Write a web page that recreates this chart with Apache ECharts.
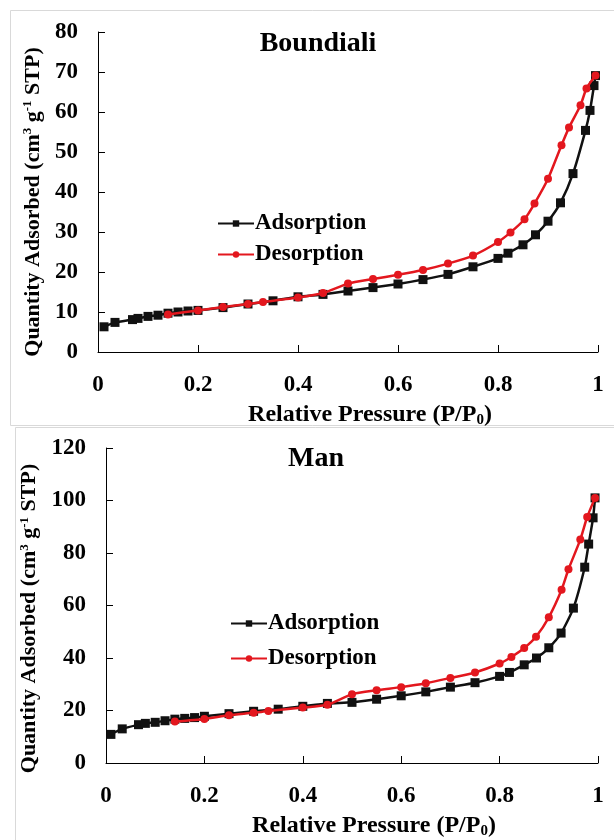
<!DOCTYPE html>
<html>
<head>
<meta charset="utf-8">
<script src="https://cdn.jsdelivr.net/npm/echarts@6/dist/echarts.min.js"></script>
<style>
  html, body { margin: 0; padding: 0; background: #fff; }
  #chart { width: 614px; height: 840px; }
</style>
</head>
<body>
<div id="chart"></div>
<script>
// Boundiali isotherm
const bAdsX = [0.012, 0.034, 0.069, 0.08, 0.10, 0.12, 0.14, 0.16, 0.18, 0.20, 0.25, 0.30, 0.35, 0.40, 0.45, 0.50, 0.55, 0.60, 0.65, 0.70, 0.75, 0.80, 0.82, 0.85, 0.875, 0.90, 0.925, 0.95, 0.975, 0.984, 0.992, 0.995]
const bAdsY = [6.3, 7.4, 8.1, 8.4, 8.9, 9.2, 9.7, 10.0, 10.25, 10.4, 11.1, 12.0, 12.8, 13.8, 14.4, 15.25, 16.1, 17.0, 18.1, 19.4, 21.3, 23.4, 24.7, 26.8, 29.3, 32.7, 37.3, 44.6, 55.4, 60.4, 66.6, 69.1]
const bDesX = [0.995, 0.977, 0.965, 0.942, 0.927, 0.90, 0.873, 0.853, 0.825, 0.80, 0.75, 0.70, 0.65, 0.60, 0.55, 0.50, 0.45, 0.40, 0.33, 0.30, 0.25, 0.20, 0.14]
const bDesY = [69.1, 65.9, 61.7, 56.1, 51.7, 43.3, 37.1, 33.2, 29.9, 27.5, 24.1, 22.1, 20.5, 19.3, 18.25, 17.1, 14.75, 13.6, 12.5, 12.0, 11.25, 10.4, 9.4]

// Man isotherm
const mAdsX = [0.01, 0.033, 0.066, 0.08, 0.10, 0.12, 0.14, 0.16, 0.18, 0.20, 0.25, 0.30, 0.35, 0.40, 0.45, 0.50, 0.55, 0.60, 0.65, 0.70, 0.75, 0.80, 0.82, 0.85, 0.875, 0.90, 0.925, 0.95, 0.973, 0.981, 0.99, 0.994]
const mAdsY = [10.9, 13.0, 14.6, 15.1, 15.5, 16.1, 16.7, 17.0, 17.3, 17.8, 18.8, 19.7, 20.5, 21.6, 22.7, 23.1, 24.3, 25.6, 27.1, 28.9, 30.6, 33.0, 34.5, 37.4, 40.0, 43.9, 49.5, 59.0, 74.6, 83.4, 93.4, 101.0]
const mDesX = [0.994, 0.978, 0.964, 0.94, 0.926, 0.90, 0.874, 0.85, 0.824, 0.80, 0.75, 0.70, 0.65, 0.60, 0.55, 0.50, 0.45, 0.40, 0.33, 0.30, 0.25, 0.20, 0.14]
const mDesY = [101.0, 93.7, 85.1, 73.8, 66.0, 55.5, 48.1, 43.8, 40.4, 37.9, 34.5, 32.4, 30.4, 28.9, 27.7, 26.2, 22.2, 21.1, 19.8, 19.1, 18.2, 16.8, 15.8]

const xTicks = [0, 0.2, 0.4, 0.6, 0.8, 1]

const zip = (xs, ys) => xs.map((x, i) => [x, ys[i]])

const FONT = 'Liberation Serif'
const RED = '#e3171e'
const BLACK = '#111'

const myChart = echarts.init(document.getElementById('chart'))

const xAxisFor = (gridIndex) => ({
  type: 'value',
  gridIndex: gridIndex,
  min: 0,
  max: 1,
  interval: 0.2,
  name: 'Relative Pressure (P/P{sub|0})',
  nameLocation: 'middle',
  nameGap: 49,
  nameTextStyle: {
    fontFamily: FONT,
    fontWeight: 'bold',
    fontSize: 24,
    color: '#000',
    padding: [0, 0, 0, 44],
    rich: {
      sub: { fontFamily: FONT, fontWeight: 'bold', fontSize: 15, color: '#000', verticalAlign: 'bottom', padding: [12, 0, 0, 0] }
    }
  },
  axisLine: { lineStyle: { color: '#000', width: 1 } },
  axisTick: { inside: true, length: 7, lineStyle: { color: '#000' } },
  splitLine: { show: false },
  axisLabel: {
    margin: 22,
    fontFamily: FONT,
    fontWeight: 'bold',
    fontSize: 23,
    color: '#000',
    formatter: (v) => (xTicks.includes(v) ? String(v) : '')
  }
})

const yAxisFor = (gridIndex, max, interval, gap, shift) => ({
  type: 'value',
  gridIndex: gridIndex,
  min: 0,
  max: max,
  interval: interval,
  name: 'Quantity Adsorbed (cm{sup|3} g{sup|-1} STP)',
  nameLocation: 'middle',
  nameRotate: 90,
  nameGap: gap,
  nameTextStyle: {
    fontFamily: FONT,
    fontWeight: 'bold',
    fontSize: 22,
    color: '#000',
    padding: [0, shift, 0, 0],
    rich: {
      sup: { fontFamily: FONT, fontWeight: 'bold', fontSize: 13, color: '#000', verticalAlign: 'top', padding: [0, 0, 10, 0] }
    }
  },
  axisLine: { show: true, lineStyle: { color: '#000', width: 1 } },
  axisTick: { show: true, inside: true, length: 7, lineStyle: { color: '#000' } },
  splitLine: { show: false },
  axisLabel: {
    margin: 20,
    fontFamily: FONT,
    fontWeight: 'bold',
    fontSize: 23,
    color: '#000'
  }
})

const seriesFor = (name, data, idx, isAds) => ({
  name: name,
  type: 'line',
  xAxisIndex: idx,
  yAxisIndex: idx,
  data: data,
  symbol: isAds ? 'rect' : 'circle',
  symbolSize: isAds ? 9 : 8,
  smooth: 0.2,
  lineStyle: { color: isAds ? BLACK : RED, width: 2.5 },
  itemStyle: { color: isAds ? BLACK : RED },
  z: isAds ? 2 : 3,
  animation: false
})

const legendFor = (left, top, gap) => ({
  orient: 'vertical',
  left: left,
  top: top,
  padding: 0,
  itemWidth: 36,
  itemHeight: 8,
  itemGap: gap,
  data: ['Adsorption', 'Desorption'],
  textStyle: { fontFamily: FONT, fontWeight: 'bold', fontSize: 23, color: '#000', padding: [0, 0, 0, -4] }
})

const option = {
  backgroundColor: '#fff',
  animation: false,
  title: [
    { text: 'Boundiali', left: 313, top: 25, textAlign: 'center', textStyle: { fontFamily: FONT, fontWeight: 'bold', fontSize: 28, color: '#000' } },
    { text: 'Man', left: 311, top: 440, textAlign: 'center', textStyle: { fontFamily: FONT, fontWeight: 'bold', fontSize: 28, color: '#000' } }
  ],
  legend: [legendFor(217, 212, 8), legendFor(230, 612, 12)],
  graphic: [
    { type: 'rect', shape: { x: 10.5, y: 10.5, width: 620, height: 415 }, style: { fill: 'none', stroke: '#d9d9d9', lineWidth: 1 }, silent: true },
    { type: 'rect', shape: { x: 15.5, y: 427.5, width: 620, height: 430 }, style: { fill: 'none', stroke: '#d9d9d9', lineWidth: 1 }, silent: true }
  ],
  grid: [
    { left: 98, right: 16, top: 32, height: 320 },
    { left: 106, right: 16, top: 448, height: 321 }
  ],
  xAxis: [xAxisFor(0), xAxisFor(1)],
  yAxis: [yAxisFor(0, 80, 10, 53, 20), yAxisFor(1, 120, 20, 62, 26)],
  series: [
    seriesFor('Adsorption', zip(bAdsX, bAdsY), 0, true),
    seriesFor('Desorption', zip(bDesX, bDesY), 0, false),
    seriesFor('Adsorption', zip(mAdsX, mAdsY), 1, true),
    seriesFor('Desorption', zip(mDesX, mDesY), 1, false)
  ]
}
myChart.setOption(option)
</script>
</body>
</html>
